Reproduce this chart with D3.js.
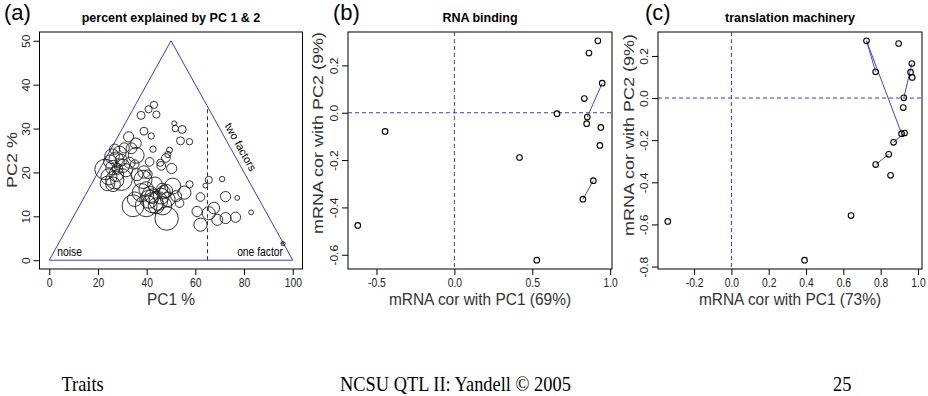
<!DOCTYPE html>
<html>
<head>
<meta charset="utf-8">
<script src="https://cdn.jsdelivr.net/npm/d3@7"></script>
<style>
  body { margin: 0; background: #fff; }
  svg { display: block; }
  text { font-family: "Liberation Sans", Arial, sans-serif; }
</style>
</head>
<body>
<div id="chart"></div>
<script>
// (a) percent of variance explained by PC1 and PC2, one circle per trait group
var pc1Pct = [43.0, 40.8, 44.0, 37.7, 51.3, 51.8, 54.6, 38.9, 41.9, 32.6, 53.9, 57.6, 35.5, 42.6, 49.4,
    30.8, 26.9, 48.7, 47.9, 35.7, 25.8, 27.5, 28.9, 41.2, 45.6, 46.0, 33.0, 35.1, 30.3, 50.3,
    22.9, 26.2, 38.9, 40.5, 27.5, 29.6, 23.9, 26.2, 26.9, 38.5, 43.4,
    57.6, 50.7, 48.0, 46.4, 55.5, 39.8, 37.8, 42.3, 40.9, 42.6, 39.8, 43.9, 46.0, 48.7, 46.6,
    52.1, 34.4, 35.1, 48.2, 53.5,
    62.1, 64.1, 65.5, 71.0, 72.4, 77.2, 82.9, 60.7, 62.1, 65.5, 67.6, 69.0, 72.4, 76.5, 96.0, 95.8,
    25.0, 29.5, 31.5, 28.0, 24.5, 44.8, 41.5, 47.0, 36.0, 33.8];
var pc2Pct = [35.4, 34.4, 33.2, 33.0, 31.2, 30.0, 29.8, 29.4, 28.3, 28.1, 27.2, 27.0, 26.6, 25.3, 25.1,
    25.6, 25.3, 24.1, 23.3, 23.9, 23.7, 23.0, 24.5, 22.4, 22.2, 21.5, 22.2, 21.9, 21.5, 20.9,
    20.7, 21.1, 20.1, 19.6, 19.6, 18.4, 17.5, 17.3, 18.3, 18.4, 17.3,
    17.3, 16.9, 15.8, 16.3, 15.4, 16.2, 15.4, 14.6, 13.9, 13.1, 12.4, 12.4, 14.6, 13.9, 12.4,
    14.6, 12.4, 13.9, 9.5, 13.0,
    14.4, 17.0, 18.3, 18.5, 14.5, 14.2, 10.9, 11.1, 8.1, 10.7, 11.9, 9.2, 9.6, 9.8, 3.8, 3.9,
    22.5, 22.8, 20.5, 20.8, 19.0, 13.5, 15.0, 15.5, 19.5, 25.5];
var groupSize = [9, 9, 9, 11, 4, 7, 11, 11, 7, 18, 11, 7, 21, 7, 6,
    18, 18, 7, 13, 44, 37, 37, 30, 13, 9, 13, 21, 13, 30, 18,
    72, 37, 27, 13, 37, 83, 37, 37, 57, 57, 37,
    9, 44, 30, 21, 30, 37, 57, 37, 57, 72, 83, 44, 44, 37, 57,
    21, 83, 37, 95, 13,
    13, 4, 9, 5, 18, 4, 4, 18, 30, 30, 23, 21, 21, 18, 3, 0.6,
    30, 25, 30, 20, 45, 60, 45, 30, 25, 20];
var pctTicksX = [0, 20, 40, 60, 80, 100];
var pctTicksY = [0, 10, 20, 30, 40, 50];
var triangleX = [0, 50, 100, 0];
var triangleY = [0, 50, 0, 0];
var oneFactorCut = 65;

// (b) RNA binding
var rnaPC1 = [0.921, 0.864, 0.949, 0.834, 0.853, 0.849, 0.940, 0.934, 0.892, 0.825, 0.659, 0.418, -0.445, -0.620, 0.529];
var rnaPC2 = [0.304, 0.252, 0.125, 0.060, -0.018, -0.046, -0.062, -0.138, -0.287, -0.365, -0.004, -0.189, -0.079, -0.476, -0.623];
var rnaLinks = [[4, 2], [9, 8]];
var rnaTicksX = [-0.5, 0, 0.5, 1];
var rnaLabelsX = ["-0.5", "0.0", "0.5", "1.0"];
var rnaTicksY = [-0.6, -0.4, -0.2, 0, 0.2];
var rnaLabelsY = ["-0.6", "-0.4", "-0.2", "0.0", "0.2"];

// (c) translation machinery
var trPC1 = [0.724, 0.773, 0.896, 0.967, 0.960, 0.969, 0.924, 0.921, 0.912, 0.928, 0.869, 0.843, 0.773, 0.853, 0.641, 0.392, -0.341];
var trPC2 = [0.272, 0.125, 0.259, 0.164, 0.123, 0.098, 0.001, -0.045, -0.169, -0.166, -0.210, -0.267, -0.316, -0.367, -0.558, -0.770, -0.586];
var trLinks = [[0, 1], [0, 8], [6, 3], [10, 9], [12, 11]];
var trTicksX = [-0.2, 0, 0.2, 0.4, 0.6, 0.8, 1];
var trLabelsX = ["-0.2", "0.0", "0.2", "0.4", "0.6", "0.8", "1.0"];
var trTicksY = [-0.8, -0.6, -0.4, -0.2, 0, 0.2];
var trLabelsY = ["-0.8", "-0.6", "-0.4", "-0.2", "0.0", "0.2"];

var footer = ["Traits", "NCSU QTL II: Yandell \u00a9 2005", "25"];

var SQ = 0.86;   // the slide is squeezed sideways
var BLUE = "#3c3cc8";

var svg = d3.select("#chart").append("svg")
    .attr("width", 928)
    .attr("height", 396);

function padded(ext) {
    var p = (ext[1] - ext[0]) * 0.04;
    return [ext[0] - p, ext[1] + p];
}

function frame(f, x, y, o) {
    var g = svg.append("g");

    var ax = g.append("g")
        .attr("transform", "translate(0," + f.bottom + ")")
        .call(d3.axisBottom(x).tickValues(o.xTicks).tickFormat(function (d, i) { return o.xLabels[i]; }).tickSize(6).tickSizeOuter(0));
    ax.select(".domain").remove();
    ax.attr("font-size", 12).attr("font-family", null);
    ax.selectAll("text")
        .attr("y", 9.5)
        .attr("fill", "#222")
        .attr("transform", "scale(" + SQ + ",1)");

    var ay = g.append("g")
        .attr("transform", "translate(" + f.left + ",0)")
        .call(d3.axisLeft(y).tickValues(o.yTicks).tickFormat(function (d, i) { return o.yLabels[i]; }).tickSize(6).tickSizeOuter(0));
    ay.select(".domain").remove();
    ay.attr("font-size", 12).attr("font-family", null);
    ay.selectAll("text")
        .attr("x", 0)
        .attr("y", -10 / SQ)
        .attr("dy", 0)
        .attr("fill", "#222")
        .attr("text-anchor", "middle")
        .attr("transform", "rotate(-90) scale(1," + SQ + ")");

    g.append("rect")
        .attr("x", f.left)
        .attr("y", f.top)
        .attr("width", f.right - f.left)
        .attr("height", f.bottom - f.top)
        .attr("fill", "none")
        .attr("stroke", "#000");

    var cx = (f.left + f.right) / 2;
    g.append("text")
        .attr("x", cx)
        .attr("y", 22)
        .attr("text-anchor", "middle")
        .attr("font-weight", "bold")
        .attr("font-size", 12.5)
        .text(o.title);

    g.append("text")
        .attr("x", o.letterX)
        .attr("y", 20)
        .attr("font-size", 22)
        .text(o.letter);

    g.append("text")
        .attr("transform", "translate(" + cx + ",305) scale(0.91,1)")
        .attr("text-anchor", "middle")
        .attr("font-size", 17)
        .attr("fill", "#333")
        .text(o.xTitle);

    g.append("text")
        .attr("transform", "translate(" + o.yTitleX + "," + o.yTitleY + ") rotate(-90) scale(1," + SQ + ")")
        .attr("text-anchor", "middle")
        .attr("font-size", 18)
        .attr("fill", "#333")
        .text(o.yTitle);

    return g;
}

// ---- (a)
var fa = {left: 39.5, right: 302.5, top: 32, bottom: 269};
var xa = d3.scaleLinear().domain(padded([0, 100])).range([fa.left, fa.right]);
var ya = d3.scaleLinear().domain(padded([0, 50])).range([fa.bottom, fa.top]);
var ra = d3.scaleSqrt().domain([0, 100]).range([0, 12]);

var ga = frame(fa, xa, ya, {
    xTicks: pctTicksX, xLabels: pctTicksX.map(String),
    yTicks: pctTicksY, yLabels: pctTicksY.map(String),
    title: "percent explained by PC 1 & 2", letter: "(a)", letterX: 4,
    xTitle: "PC1 %", yTitle: "PC2 %", yTitleX: 17, yTitleY: 160
});

ga.append("path")
    .attr("d", d3.line().x(function (d) { return xa(d[0]); }).y(function (d) { return ya(d[1]); })(d3.zip(triangleX, triangleY)))
    .attr("fill", "none")
    .attr("stroke", BLUE)
    .attr("stroke-width", 1);

ga.append("line")
    .attr("x1", xa(oneFactorCut)).attr("x2", xa(oneFactorCut))
    .attr("y1", ya(0)).attr("y2", ya(100 - oneFactorCut))
    .attr("stroke", "#333")
    .attr("stroke-dasharray", "4,3");

ga.selectAll("circle.grp")
    .data(d3.range(pc1Pct.length)).enter()
    .append("circle")
    .attr("class", "grp")
    .attr("cx", function (i) { return xa(pc1Pct[i]); })
    .attr("cy", function (i) { return ya(pc2Pct[i]); })
    .attr("r", function (i) { return ra(groupSize[i]); })
    .attr("fill", "none")
    .attr("stroke", "#1e1e1e")
    .attr("stroke-width", 0.9);

ga.append("text")
    .attr("transform", "translate(" + xa(3.3) + "," + ya(0.9) + ") scale(" + SQ + ",1)")
    .attr("font-size", 12)
    .text("noise");
ga.append("text")
    .attr("transform", "translate(" + xa(96) + "," + ya(0.9) + ") scale(" + SQ + ",1)")
    .attr("text-anchor", "end")
    .attr("font-size", 12)
    .text("one factor");
ga.append("text")
    .attr("transform", "translate(" + xa(78.6) + "," + ya(25.8) + ") rotate(61)")
    .attr("text-anchor", "middle")
    .attr("dy", "0.35em")
    .attr("font-size", 11)
    .text("two factors");

// ---- (b) and (c)
function corPanel(f, px, py, links, o) {
    var x = d3.scaleLinear().domain(padded(d3.extent(px))).range([f.left, f.right]);
    var y = d3.scaleLinear().domain(padded(d3.extent(py))).range([f.bottom, f.top]);
    var g = frame(f, x, y, o);

    g.append("line")
        .attr("x1", x(0)).attr("x2", x(0)).attr("y1", f.top).attr("y2", f.bottom)
        .attr("stroke", BLUE).attr("stroke-dasharray", "4,3");
    g.append("line")
        .attr("x1", f.left).attr("x2", f.right).attr("y1", y(0)).attr("y2", y(0))
        .attr("stroke", BLUE).attr("stroke-dasharray", "4,3");

    g.selectAll("line.link")
        .data(links).enter()
        .append("line")
        .attr("class", "link")
        .attr("x1", function (d) { return x(px[d[0]]); })
        .attr("y1", function (d) { return y(py[d[0]]); })
        .attr("x2", function (d) { return x(px[d[1]]); })
        .attr("y2", function (d) { return y(py[d[1]]); })
        .attr("stroke", "#4646d2")
        .attr("stroke-width", 1);

    g.selectAll("circle.pt")
        .data(d3.range(px.length)).enter()
        .append("circle")
        .attr("class", "pt")
        .attr("cx", function (i) { return x(px[i]); })
        .attr("cy", function (i) { return y(py[i]); })
        .attr("r", 2.8)
        .attr("fill", "none")
        .attr("stroke", "#000")
        .attr("stroke-width", 1.1);
}

corPanel({left: 348, right: 612, top: 32, bottom: 269}, rnaPC1, rnaPC2, rnaLinks, {
    xTicks: rnaTicksX, xLabels: rnaLabelsX, yTicks: rnaTicksY, yLabels: rnaLabelsY,
    title: "RNA binding", letter: "(b)", letterX: 333,
    xTitle: "mRNA cor with PC1 (69%)", yTitle: "mRNA cor with PC2 (9%)", yTitleX: 323, yTitleY: 133
});

corPanel({left: 658, right: 922, top: 32, bottom: 269}, trPC1, trPC2, trLinks, {
    xTicks: trTicksX, xLabels: trLabelsX, yTicks: trTicksY, yLabels: trLabelsY,
    title: "translation machinery", letter: "(c)", letterX: 645,
    xTitle: "mRNA cor with PC1 (73%)", yTitle: "mRNA cor with PC2 (9%)", yTitleX: 634, yTitleY: 135
});

// ---- slide footer
var footX = [61.5, 340, 833];
svg.selectAll("text.foot")
    .data(footer).enter()
    .append("text")
    .attr("class", "foot")
    .attr("transform", function (d, i) { return "translate(" + footX[i] + ",391) scale(0.92,1)"; })
    .style("font-family", "'Liberation Serif', 'Times New Roman', serif")
    .attr("font-size", 20)
    .text(function (d) { return d; });
</script>
</body>
</html>
